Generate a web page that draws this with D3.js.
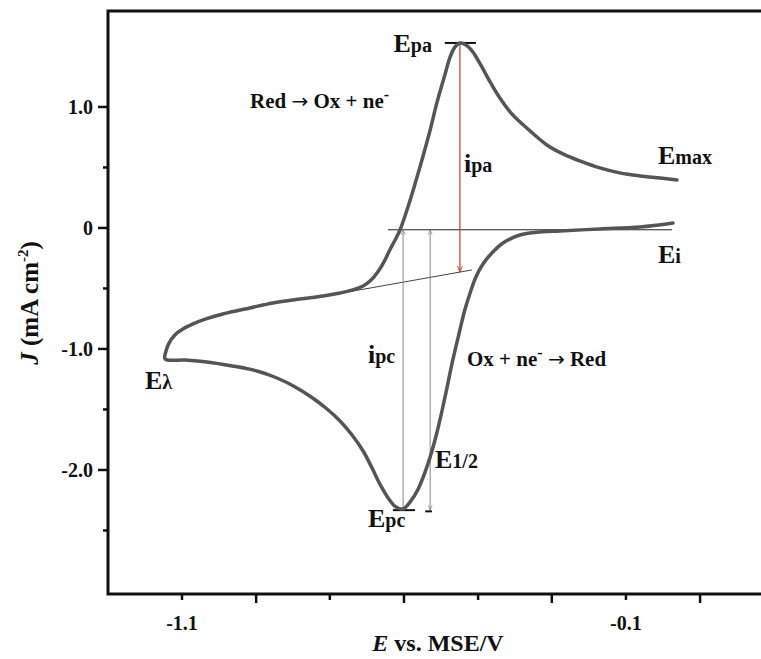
<!DOCTYPE html>
<html>
<head>
<meta charset="utf-8">
<script src="https://cdn.jsdelivr.net/npm/d3@7"></script>
<style>
  body { margin: 0; background: #fff; }
  text { font-family: "Liberation Serif", "Times New Roman", serif; font-weight: bold; fill: #111; }
</style>
</head>
<body>
<div id="chart"></div>
<script>
// cathodic sweep: from Ei (right) down to E-lambda (left)
const forwardE = [0.006, -0.068, -0.159, -0.249, -0.294, -0.339, -0.377, -0.402, -0.422, -0.438,
  -0.451, -0.463, -0.474, -0.490, -0.508, -0.526, -0.546, -0.568, -0.586, -0.602, -0.618, -0.634,
  -0.652, -0.672, -0.692, -0.717, -0.744, -0.776, -0.809, -0.845, -0.886, -0.931, -0.987, -1.044,
  -1.093, -1.138];
const forwardJ = [0.041, 0.008, -0.008, -0.025, -0.033, -0.058, -0.124, -0.207, -0.298, -0.405,
  -0.537, -0.678, -0.843, -1.091, -1.405, -1.694, -1.950, -2.157, -2.264, -2.322, -2.306, -2.240,
  -2.132, -1.983, -1.843, -1.711, -1.595, -1.488, -1.397, -1.314, -1.240, -1.182, -1.140, -1.107,
  -1.091, -1.083];

// anodic sweep: from E-lambda back to Emax
const reverseE = [-1.136, -1.129, -1.116, -1.098, -1.075, -1.046, -1.008, -0.947, -0.895, -0.834,
  -0.782, -0.744, -0.715, -0.692, -0.674, -0.659, -0.645, -0.632, -0.620, -0.609, -0.586, -0.564,
  -0.541, -0.526, -0.508, -0.496, -0.485, -0.474, -0.460, -0.445, -0.427, -0.406, -0.384, -0.355,
  -0.316, -0.278, -0.242, -0.204, -0.159, -0.114, -0.068, -0.023, 0.015];
const reverseJ = [-1.017, -0.950, -0.884, -0.835, -0.793, -0.752, -0.711, -0.661, -0.620, -0.587,
  -0.562, -0.537, -0.512, -0.479, -0.430, -0.364, -0.281, -0.182, -0.099, -0.017, 0.231, 0.504,
  0.810, 1.033, 1.264, 1.413, 1.496, 1.529, 1.512, 1.455, 1.347, 1.207, 1.074, 0.934,
  0.802, 0.686, 0.612, 0.554, 0.496, 0.455, 0.430, 0.413, 0.397];

// axis ticks
const yMajorTicks = [1.0, 0, -1.0, -2.0];
const yMajorLabels = ['1.0', '0', '-1.0', '-2.0'];
const yMinorTicks = [0.5, -0.5, -1.5, -2.5];
const xTicks = [-1.1, -0.933, -0.767, -0.6, -0.433, -0.267, -0.1, 0.067];
const xTickLabels = ['-1.1', '', '', '', '', '', '-0.1', ''];

// characteristic points
const Epa = -0.474, ipaTop = 1.529;
const Epc = -0.602, ipcBottom = -2.322;
const EhalfX = -0.541;
const baseJ = -0.015;
const baseFrom = -0.636, baseTo = 0.004;
const tangentE = [-0.789, -0.447];
const tangentJ = [-0.570, -0.347];

const W = 761, H = 659;
const margin = { top: 11, left: 108, bottom: 65 };

const x = d3.scaleLinear().domain([-1.2667, 0.211]).range([margin.left, 764]);
const y = d3.scaleLinear().domain([-3.025, 1.793]).range([H - margin.bottom, margin.top]);

const svg = d3.select('#chart').append('svg')
  .attr('width', W).attr('height', H);

const defs = svg.append('defs');
function arrow(id, color) {
  defs.append('marker')
    .attr('id', id)
    .attr('viewBox', '0 0 10 10')
    .attr('refX', 10).attr('refY', 5)
    .attr('markerWidth', 5).attr('markerHeight', 5)
    .attr('orient', 'auto-start-reverse')
    .append('path').attr('d', 'M0,1 L10,5 L0,9').attr('fill', 'none')
    .attr('stroke', color).attr('stroke-width', 1.5);
}
arrow('arrGray', '#888');
arrow('arrRed', '#c0392b');

const x0 = margin.left, yBottom = H - margin.bottom, yTop = margin.top;

// frame (left, top, bottom)
svg.append('path')
  .attr('d', `M${W + 5},${yTop} H${x0} V${yBottom} H${W + 5}`)
  .attr('fill', 'none').attr('stroke', '#111').attr('stroke-width', 3);

// y ticks
svg.selectAll('.ymaj').data(yMajorTicks).enter().append('line')
  .attr('x1', x0 - 10).attr('x2', x0)
  .attr('y1', d => y(d)).attr('y2', d => y(d))
  .attr('stroke', '#111').attr('stroke-width', 2.5);
svg.selectAll('.ymin').data(yMinorTicks).enter().append('line')
  .attr('x1', x0 - 5).attr('x2', x0)
  .attr('y1', d => y(d)).attr('y2', d => y(d))
  .attr('stroke', '#111').attr('stroke-width', 2.5);
svg.selectAll('.ylab').data(yMajorTicks).enter().append('text')
  .attr('x', x0 - 15).attr('y', d => y(d)).attr('dy', '0.35em')
  .attr('text-anchor', 'end').attr('font-size', 20)
  .text((d, i) => yMajorLabels[i]);

// x ticks
svg.selectAll('.xt').data(xTicks).enter().append('line')
  .attr('x1', d => x(d)).attr('x2', d => x(d))
  .attr('y1', yBottom).attr('y2', (d, i) => yBottom + (i % 2 ? 9 : 6))
  .attr('stroke', '#111').attr('stroke-width', 2.5);
svg.selectAll('.xlab').data(xTicks).enter().append('text')
  .attr('x', d => x(d)).attr('y', yBottom + 36)
  .attr('text-anchor', 'middle').attr('font-size', 20)
  .text((d, i) => xTickLabels[i]);

// axis titles
const xt = svg.append('text').attr('x', 438).attr('y', 651)
  .attr('text-anchor', 'middle').attr('font-size', 24);
xt.append('tspan').attr('font-style', 'italic').text('E');
xt.append('tspan').text(' vs. MSE/V');

const yt = svg.append('text')
  .attr('transform', `translate(38,${y(-0.62)}) rotate(-90)`)
  .attr('text-anchor', 'middle').attr('font-size', 25);
yt.append('tspan').attr('font-style', 'italic').text('J');
yt.append('tspan').text(' (mA cm');
yt.append('tspan').attr('font-size', 15).attr('dy', -10).text('-2');
yt.append('tspan').attr('dy', 10).text(')');

// guide lines
svg.append('line')
  .attr('x1', x(baseFrom)).attr('x2', x(baseTo))
  .attr('y1', y(baseJ)).attr('y2', y(baseJ))
  .attr('stroke', '#222').attr('stroke-width', 1);
svg.append('line')
  .attr('x1', x(tangentE[0])).attr('x2', x(tangentE[1]))
  .attr('y1', y(tangentJ[0])).attr('y2', y(tangentJ[1]))
  .attr('stroke', '#444').attr('stroke-width', 1);

const tangentAt = e => tangentJ[0] + (e - tangentE[0]) * (tangentJ[1] - tangentJ[0]) / (tangentE[1] - tangentE[0]);

// ipa (red)
svg.append('line')
  .attr('x1', x(Epa)).attr('x2', x(Epa))
  .attr('y1', y(ipaTop)).attr('y2', y(tangentAt(Epa)))
  .attr('stroke', '#c0392b').attr('stroke-width', 1.2)
  .attr('marker-end', 'url(#arrRed)');

// ipc and E1/2 (gray)
svg.append('line')
  .attr('x1', x(Epc)).attr('x2', x(Epc))
  .attr('y1', y(ipcBottom)).attr('y2', y(baseJ))
  .attr('stroke', '#888').attr('stroke-width', 1)
  .attr('marker-end', 'url(#arrGray)');
svg.append('line')
  .attr('x1', x(EhalfX)).attr('x2', x(EhalfX))
  .attr('y1', y(ipcBottom - 0.01)).attr('y2', y(baseJ))
  .attr('stroke', '#888').attr('stroke-width', 1)
  .attr('marker-start', 'url(#arrGray)')
  .attr('marker-end', 'url(#arrGray)');

// peak bars
svg.append('line')
  .attr('x1', x(Epa - 0.034)).attr('x2', x(Epa + 0.036))
  .attr('y1', y(ipaTop)).attr('y2', y(ipaTop))
  .attr('stroke', '#111').attr('stroke-width', 2);
svg.append('line')
  .attr('x1', x(Epc - 0.023)).attr('x2', x(Epc + 0.027))
  .attr('y1', y(ipcBottom - 0.01)).attr('y2', y(ipcBottom - 0.01))
  .attr('stroke', '#111').attr('stroke-width', 2);
svg.append('line')
  .attr('x1', x(EhalfX - 0.011)).attr('x2', x(EhalfX + 0.004))
  .attr('y1', y(ipcBottom - 0.02)).attr('y2', y(ipcBottom - 0.02))
  .attr('stroke', '#111').attr('stroke-width', 2);

// the voltammogram
const line = d3.line()
  .x(d => x(d[0])).y(d => y(d[1]))
  .curve(d3.curveCatmullRom.alpha(0.5));
const pts = forwardE.map((e, i) => [e, forwardJ[i]])
  .concat(reverseE.map((e, i) => [e, reverseJ[i]]));
svg.append('path').datum(pts)
  .attr('d', line)
  .attr('fill', 'none').attr('stroke', '#555').attr('stroke-width', 3.5)
  .attr('stroke-linejoin', 'round').attr('stroke-linecap', 'round');

// labels: parts = [text, size, dy, family]
function label(px, py, parts, anchor) {
  const t = svg.append('text').attr('x', px).attr('y', py)
    .attr('text-anchor', anchor || 'start');
  parts.forEach(p => {
    const s = t.append('tspan').attr('font-size', p[1]).text(p[0]);
    if (p[2]) s.attr('dy', p[2]);
    if (p[3]) s.style('font-family', p[3]).style('font-weight', 'normal');
  });
  return t;
}

label(x(Epa) - 28, y(ipaTop) + 9, [['E', 26], ['pa', 20]], 'end');
label(250, 108, [['Red ', 21], ['\u2192', 20, 0, 'DejaVu Sans'], [' Ox + ne', 21], ['-', 16, -8]]);
label(x(Epa) + 4, 172, [['i', 26], ['pa', 20]]);
label(658, 164, [['E', 26], ['max', 20]]);
label(658, 263, [['E', 26], ['i', 20]]);
label(145, 389, [['E', 26], ['\u03bb', 20]]);
label(368, 363, [['i', 26], ['pc', 20]]);
label(467, 366, [['Ox + ne', 21], ['-', 16, -8], [' ', 21, 8], ['\u2192', 20, 0, 'DejaVu Sans'], [' Red', 21]]);
label(435, 468, [['E', 26], ['1/2', 20]]);
label(368, 527, [['E', 26], ['pc', 20]]);
</script>
</body>
</html>
